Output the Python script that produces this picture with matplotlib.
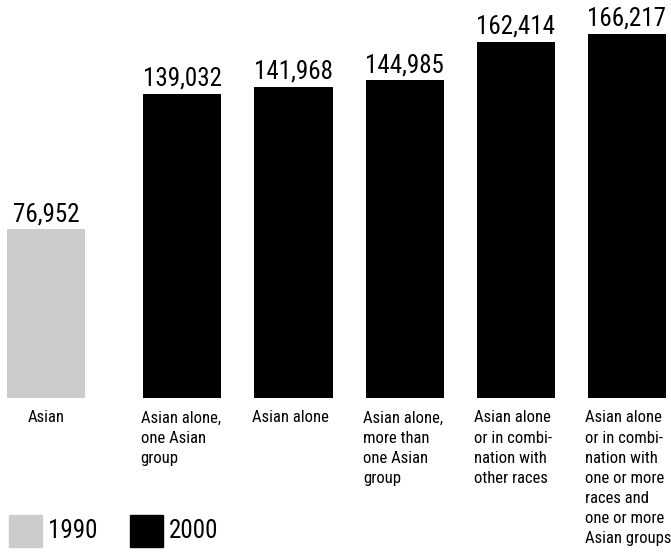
import numpy as np
import matplotlib
matplotlib.use("Agg")
import matplotlib.pyplot as plt
from matplotlib.patches import Rectangle

plt.rcParams['font.family'] = ['Roboto Condensed', 'DejaVu Sans']

# data
categories = ["Asian",
              "Asian alone,\none Asian\ngroup",
              "Asian alone",
              "Asian alone,\nmore than\none Asian\ngroup",
              "Asian alone\nor in combi-\nnation with\nother races",
              "Asian alone\nor in combi-\nnation with\none or more\nraces and\none or more\nAsian groups"]
values = [76952, 139032, 141968, 144985, 162414, 166217]
years = ["1990", "2000", "2000", "2000", "2000", "2000"]
legend_years = ["1990", "2000"]

year_colors = {"1990": "#cccccc", "2000": "#000000"}

W, H = 671, 554
fig = plt.figure(figsize=(W / 100, H / 100), dpi=100)
ax = fig.add_axes([0, 0, 1, 1])
ax.set_axis_off()

# first bar sits a bit apart from the 2000 group
pos = np.r_[0, 1.24 + np.arange(len(values) - 1) * 1.01]
width = 0.71
colors = [year_colors[y] for y in years]
ax.bar(pos, values, width=width, color=colors)

ax.set_xlim(-46 / 110, (W - 46) / 110)
upp = 456.6  # value units per pixel
ax.set_ylim(-(H - 398) * upp, 398 * upp)

for i, (x, v, lab) in enumerate(zip(pos, values, categories)):
    ax.annotate(f"{v:,}", (x, v), xytext=(0, 6), textcoords="offset points",
                ha="center", va="baseline", fontsize=18)
    if i == 0:
        ax.annotate(lab, (x, 0), xytext=(0, -9), textcoords="offset points",
                    ha="center", va="top", fontsize=12, linespacing=1.42)
    else:
        ax.annotate(lab, (x - width / 2, 0), xytext=(-2, -9), textcoords="offset points",
                    ha="left", va="top", fontsize=12, linespacing=1.42)

# legend
for lx, yr in zip([9, 130], legend_years):
    fig.add_artist(Rectangle((lx / W, 1 - 547 / H), 33 / W, 32 / H,
                             transform=fig.transFigure, color=year_colors[yr]))
    fig.text((lx + 39) / W, 1 - 531 / H, yr, fontsize=18, va="center", ha="left")

fig.savefig("out.png", dpi=100)
